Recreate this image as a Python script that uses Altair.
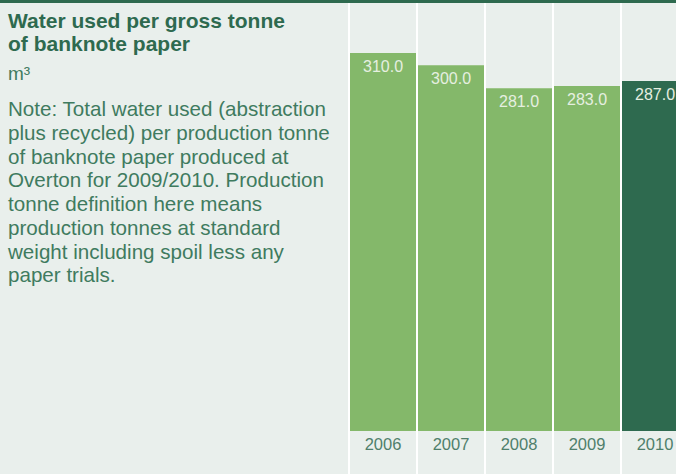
import altair as alt
import pandas as pd

# ---- data ----
years = ["2006", "2007", "2008", "2009", "2010"]
values = [310.0, 300.0, 281.0, 283.0, 287.0]
groups = ["past", "past", "past", "past", "current"]

title_lines = ["Water used per gross tonne", "of banknote paper"]
unit_text = "m³"
note_lines = [
    "Note: Total water used (abstraction",
    "plus recycled) per production tonne",
    "of banknote paper produced at",
    "Overton for 2009/2010. Production",
    "tonne definition here means",
    "production tonnes at standard",
    "weight including spoil less any",
    "paper trials.",
]

# ---- style ----
BG = "#e9efec"
DARK = "#2e6a4f"
LIGHT = "#84b86a"
NOTE_C = "#3f7b5f"
YEAR_C = "#4f7f6b"
LABEL_C = "#e6efe0"
FONT = "Liberation Sans"

df = pd.DataFrame({"year": years, "value": values, "group": groups})
one = pd.DataFrame({"k": [0]})

xscale = alt.Scale(domain=years, range=[350, 688], paddingInner=2 / 68, paddingOuter=0)
xenc = alt.X("year:N", scale=xscale, axis=None)
yscale = alt.Scale(domain=[0, 351], range=[431, 3], nice=False, zero=True)

base = alt.Chart(df)

top_band = alt.Chart(one).mark_rect(color=DARK).encode(
    x=alt.value(0), x2=alt.value(676), y=alt.value(0), y2=alt.value(3)
)

seps = base.mark_rule(color="white", strokeWidth=2, xOffset=-1).encode(
    x=alt.X("year:N", bandPosition=0, scale=xscale, axis=None),
    y=alt.value(3),
    y2=alt.value(474),
)

bars = base.mark_bar(clip=True).encode(
    x=xenc,
    y=alt.Y("value:Q", scale=yscale, axis=None),
    y2=alt.datum(0),
    color=alt.Color("group:N", scale=alt.Scale(domain=["past", "current"], range=[LIGHT, DARK]), legend=None),
)

labels = base.mark_text(
    font=FONT, fontSize=16, color=LABEL_C, baseline="alphabetic", dy=19, align="center"
).encode(
    x=xenc,
    y=alt.Y("value:Q", scale=yscale, axis=None),
    text=alt.Text("value:Q", format=".1f"),
)

year_text = base.mark_text(
    font=FONT, fontSize=16.5, color=YEAR_C, baseline="alphabetic", align="center"
).encode(
    x=xenc,
    y=alt.value(450),
    text="year:N",
)

title = alt.Chart(one).mark_text(
    font=FONT, fontSize=21, fontWeight="bold", color=DARK, align="left",
    baseline="alphabetic", lineHeight=23.4,
).encode(x=alt.value(8), y=alt.value(28), text=alt.value(title_lines))

unit = alt.Chart(one).mark_text(
    font=FONT, fontSize=19, color=NOTE_C, align="left", baseline="alphabetic",
).encode(x=alt.value(8), y=alt.value(80), text=alt.value(unit_text))

note = alt.Chart(one).mark_text(
    font=FONT, fontSize=20.6, color=NOTE_C, align="left",
    baseline="alphabetic", lineHeight=23.75,
).encode(x=alt.value(8), y=alt.value(116), text=alt.value(note_lines))

chart = (
    alt.layer(top_band, seps, bars, labels, year_text, title, unit, note)
    .properties(width=676, height=474, autosize="none", padding=0, background=BG)
    .configure_view(stroke=None)
)

chart.save("out.html", embed_options={"renderer": "svg", "actions": False})
